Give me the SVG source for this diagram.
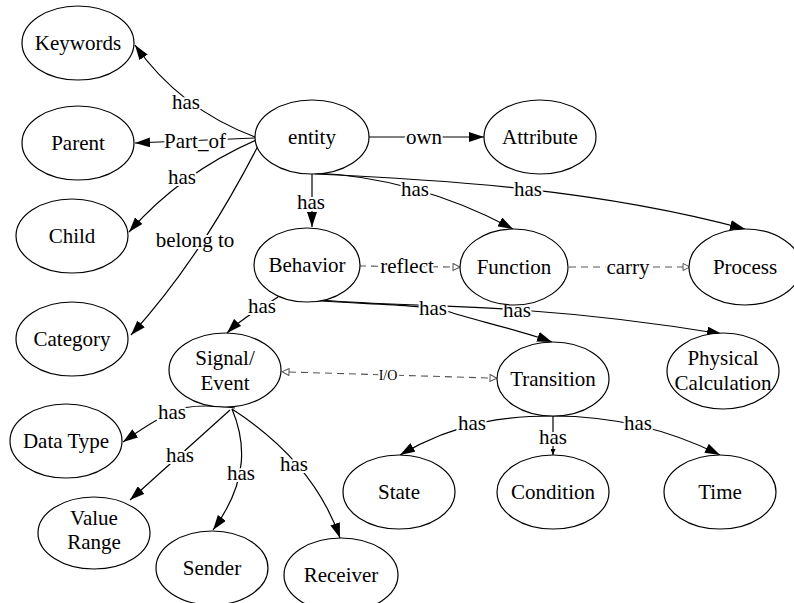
<svg xmlns="http://www.w3.org/2000/svg" width="794" height="603" viewBox="0 0 794 603">
<style>
.n ellipse{fill:white;stroke:#000;stroke-width:1.2}
text{font-size:21px;text-anchor:middle;fill:#000}
.e{fill:none;stroke:#000;stroke-width:1.2}
.d{fill:none;stroke:#555;stroke-width:1.1;stroke-dasharray:7,5}
.l{stroke:#fff;stroke-width:4px;paint-order:stroke;stroke-linejoin:round}
.s{font-size:14px}
</style>
<defs>
<marker id="a" markerWidth="15" markerHeight="10" refX="15" refY="5" orient="auto" markerUnits="userSpaceOnUse"><path d="M0,0 L15,5 L0,10 z" fill="#000"/></marker>
<marker id="sa" markerWidth="6" markerHeight="5" refX="6" refY="2.5" orient="auto" markerUnits="userSpaceOnUse"><path d="M0,0 L6,2.5 L0,5 z" fill="#000"/></marker>
<marker id="h" markerWidth="9" markerHeight="9" refX="1" refY="4" orient="auto-start-reverse" markerUnits="userSpaceOnUse"><path d="M1,0.5 L8,4 L1,7.5 z" fill="#fff" stroke="#555" stroke-width="1"/></marker>
</defs>
<g id="edges">
<path class="e" d="M255,137 C215,122 170,95 135,45" marker-end="url(#a)"/>
<path class="e" d="M255,138 L135,143" marker-end="url(#a)"/>
<path class="e" d="M256,140 C215,158 170,185 129,232" marker-end="url(#a)"/>
<path class="e" d="M258,146 C230,200 190,270 131,335" marker-end="url(#a)"/>
<path class="e" d="M369,137 L484,137" marker-end="url(#a)"/>
<path class="e" d="M312,174 L312,227" marker-end="url(#a)"/>
<path class="e" d="M312,173 C380,175 450,195 513,229" marker-end="url(#a)"/>
<path class="e" d="M315,174 C450,180 600,190 745,229" marker-end="url(#a)"/>
<path class="e" d="M278,297 C270,303 245,315 227,333" marker-end="url(#a)"/>
<path class="e" d="M278,296 C320,305 420,302 450,312 S520,330 552,342" marker-end="url(#a)"/>
<path class="e" d="M278,296 C330,304 450,305 520,310 S650,322 722,334" marker-end="url(#a)"/>
<path class="d" d="M359,266 L453,267" marker-end="url(#h)"/>
<path class="d" d="M569,267 L683,267" marker-end="url(#h)"/>
<path class="d" d="M289,372 L490,378" marker-start="url(#h)" marker-end="url(#h)"/>
<path class="e" d="M235,408 C210,405 185,405 172,412 C155,420 140,430 123,442" marker-end="url(#a)"/>
<path class="e" d="M230,410 L130,500" marker-end="url(#a)"/>
<path class="e" d="M232,409 C245,440 250,480 213,530" marker-end="url(#a)"/>
<path class="e" d="M232,409 C280,440 320,480 340,538" marker-end="url(#a)"/>
<path class="e" d="M553,416 C510,416 460,420 400,455" marker-end="url(#a)"/>
<path class="e" d="M553,416 L553,455" marker-end="url(#sa)"/>
<path class="e" d="M553,416 C600,416 660,425 720,455" marker-end="url(#a)"/>
<g font-family="Liberation Serif">
<text class="l" x="186" y="109">has</text>
<text class="l" x="195" y="148">Part_of</text>
<text class="l" x="182" y="184">has</text>
<text class="l" x="195" y="247">belong to</text>
<text class="l" x="424" y="144">own</text>
<text class="l" x="311" y="209">has</text>
<text class="l" x="415" y="196">has</text>
<text class="l" x="528" y="196">has</text>
<text class="l" x="262" y="313">has</text>
<text class="l" x="433" y="315">has</text>
<text class="l" x="517" y="317">has</text>
<text class="l" x="407" y="273">reflect</text>
<text class="l" x="628" y="274">carry</text>
<text class="l s" x="388" y="380">I/O</text>
<text class="l" x="172" y="419">has</text>
<text class="l" x="180" y="462">has</text>
<text class="l" x="241" y="480">has</text>
<text class="l" x="294" y="471">has</text>
<text class="l" x="472" y="430">has</text>
<text class="l" x="553" y="444">has</text>
<text class="l" x="638" y="430">has</text>
</g>
</g>
<g font-family="Liberation Serif">
<g id="keywords" class="n"><ellipse cx="78" cy="43" rx="56" ry="37"/><text x="78" y="50">Keywords</text></g>
<g id="parent" class="n"><ellipse cx="78" cy="143" rx="56" ry="37"/><text x="78" y="150">Parent</text></g>
<g id="entity" class="n"><ellipse cx="312" cy="137" rx="57" ry="37"/><text x="312" y="144">entity</text></g>
<g id="attribute" class="n"><ellipse cx="540" cy="137" rx="56" ry="37"/><text x="540" y="144">Attribute</text></g>
<g id="child" class="n"><ellipse cx="72" cy="236" rx="56" ry="37"/><text x="72" y="243">Child</text></g>
<g id="behavior" class="n"><ellipse cx="307" cy="265" rx="53" ry="37"/><text x="307" y="272">Behavior</text></g>
<g id="function" class="n"><ellipse cx="514" cy="267" rx="54" ry="38"/><text x="514" y="274">Function</text></g>
<g id="process" class="n"><ellipse cx="745" cy="267" rx="56" ry="38"/><text x="745" y="274">Process</text></g>
<g id="category" class="n"><ellipse cx="72" cy="339" rx="56" ry="37"/><text x="72" y="346">Category</text></g>
<g id="signal" class="n"><ellipse cx="225" cy="370" rx="56" ry="37"/><text x="225" y="365">Signal/</text><text x="225" y="390">Event</text></g>
<g id="transition" class="n"><ellipse cx="553" cy="379" rx="56" ry="37"/><text x="553" y="386">Transition</text></g>
<g id="physical" class="n"><ellipse cx="723" cy="371" rx="56" ry="38"/><text x="723" y="365">Physical</text><text x="723" y="390">Calculation</text></g>
<g id="datatype" class="n"><ellipse cx="66" cy="441" rx="56" ry="37"/><text x="66" y="448">Data Type</text></g>
<g id="valuerange" class="n"><ellipse cx="94" cy="533" rx="56" ry="36"/><text x="94" y="525">Value</text><text x="94" y="549">Range</text></g>
<g id="sender" class="n"><ellipse cx="212" cy="568" rx="56" ry="37"/><text x="212" y="575">Sender</text></g>
<g id="receiver" class="n"><ellipse cx="341" cy="575" rx="57" ry="37"/><text x="341" y="582">Receiver</text></g>
<g id="state" class="n"><ellipse cx="399" cy="492" rx="56" ry="37"/><text x="399" y="499">State</text></g>
<g id="condition" class="n"><ellipse cx="553" cy="492" rx="56" ry="37"/><text x="553" y="499">Condition</text></g>
<g id="time" class="n"><ellipse cx="720" cy="492" rx="56" ry="37"/><text x="720" y="499">Time</text></g>
</g>
</svg>
